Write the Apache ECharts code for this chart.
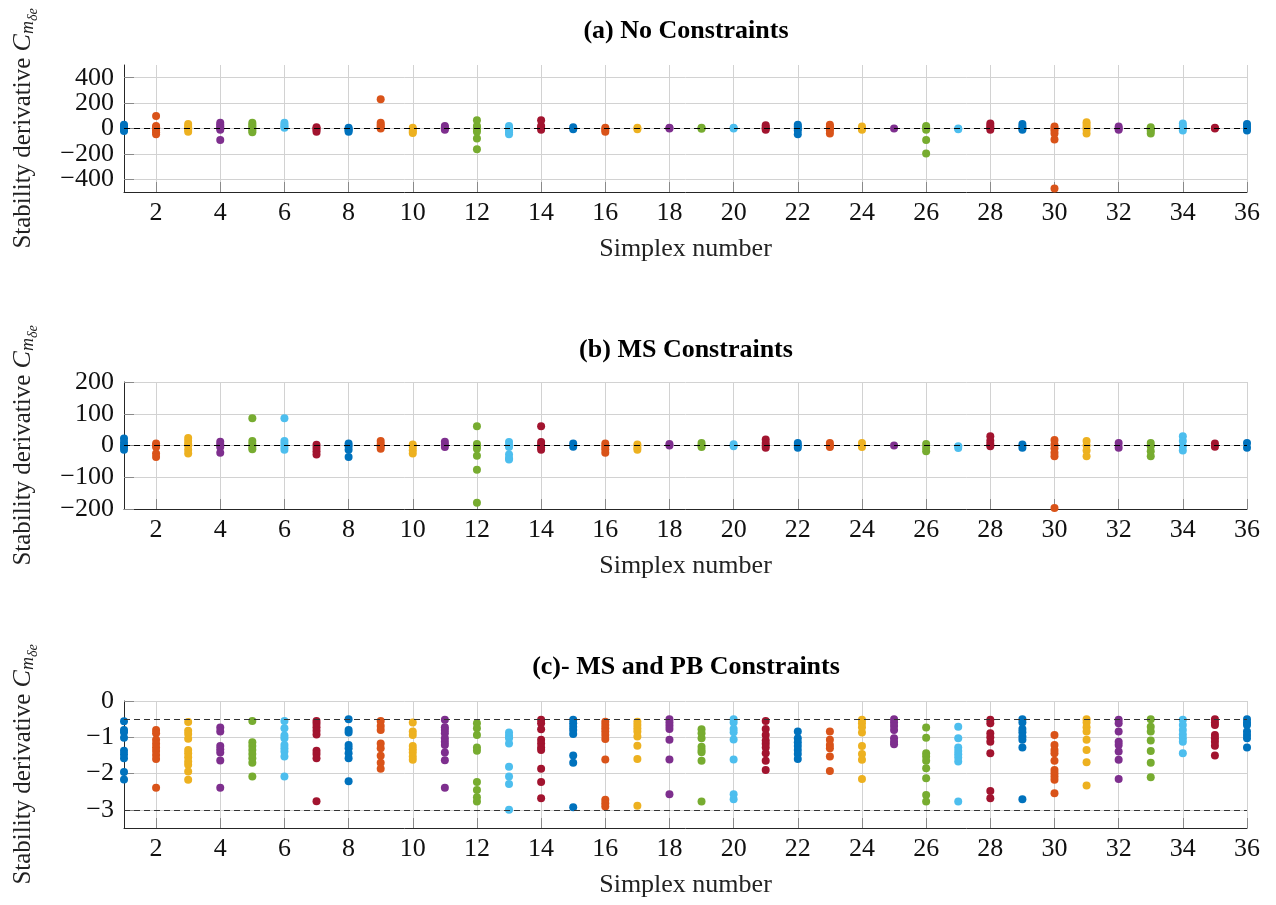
<!DOCTYPE html>
<html>
<head>
<meta charset="utf-8">
<script src="https://cdn.jsdelivr.net/npm/echarts@6/dist/echarts.min.js"></script>
<style>
html,body{margin:0;padding:0;background:#fff;}
#chart{width:1276px;height:905px;}
</style>
</head>
<body>
<div id="chart"></div>
<script>
// ---- data: one list of values per simplex (simplex 1..36) ----
const noConstraints = [
  [30, 20, 10, 0, -5, -10, -20],
  [99, 20, 10, 0, -15, -30, -45],
  [35, 20, 5, -10, -25],
  [45, 30, 15, 0, -10, -91],
  [45, 30, 15, 0, -15, -30],
  [45, 30, 15, 5],
  [10, 0, -10, -25],
  [5, -5, -15, -25],
  [230, 45, 30, 15, 0],
  [5, -10, -25, -35],
  [20, 10, 0, -10],
  [65, 20, 5, -10, -25, -78, -164],
  [20, 5, -15, -30, -45],
  [65, 20, 5, -10],
  [10, -5],
  [5, -10, -25],
  [5, -5],
  [5, 0],
  [5, -2],
  [5, 0],
  [25, 10, 0, -10],
  [30, 15, 0, -15, -45],
  [30, 15, 0, -15, -40],
  [15, 0, -10],
  [0],
  [20, 5, -10, -91, -196],
  [0, -5],
  [40, 20, 5, -10],
  [35, 15, 0, -10],
  [15, 0, -15, -40, -86, -472],
  [50, 30, 10, -10, -40],
  [15, 0, -10],
  [10, -5, -20, -40],
  [40, 20, 5, -15],
  [5, 0],
  [35, 15, 0, -15]
];

const msConstraints = [
  [22, 10, 0, -5, -13],
  [6, 0, -5, -25, -36],
  [24, 14, 5, 0, -13, -25],
  [12, 3, -5, -23],
  [86, 14, 5, -5, -12],
  [86, 14, 5, -5, -13],
  [2, -8, -18, -28],
  [6, -2, -13, -36],
  [14, 5, -2, -10],
  [3, -5, -15, -25],
  [12, 3, -5],
  [61, 5, -3, -10, -32, -76, -180],
  [11, 0, -5, -28, -40, -44],
  [61, 11, 2, -6, -13],
  [6, -4],
  [6, -3, -12, -23],
  [3, -6, -13],
  [5, 0],
  [8, 0, -5],
  [4, -2],
  [19, 8, 0, -7],
  [8, 0, -7],
  [8, 0, -5],
  [8, -5],
  [0],
  [5, -7, -18],
  [-2, -8],
  [29, 15, 5, -2],
  [3, -7],
  [17, 3, -9, -23, -34, -197],
  [14, 0, -16, -34],
  [8, -7],
  [8, -2, -18, -34],
  [29, 14, -2, -16],
  [6, -4],
  [8, -7]
];

const msPbConstraints = [
  [-0.56, -0.80, -0.86, -1.01, -1.37, -1.47, -1.58, -1.96, -2.16],
  [-0.80, -0.89, -1.07, -1.18, -1.28, -1.38, -1.49, -1.60, -2.39],
  [-0.58, -0.82, -0.91, -1.04, -1.35, -1.44, -1.55, -1.67, -1.76, -1.94, -2.17],
  [-0.73, -0.84, -1.24, -1.33, -1.42, -1.64, -2.39],
  [-0.55, -1.14, -1.24, -1.35, -1.46, -1.58, -1.70, -2.08],
  [-0.55, -0.75, -0.95, -1.03, -1.21, -1.30, -1.39, -1.53, -2.08],
  [-0.55, -0.63, -0.72, -0.82, -0.92, -1.37, -1.46, -1.58, -2.76],
  [-0.50, -0.80, -0.87, -1.21, -1.30, -1.44, -1.58, -2.21],
  [-0.55, -0.69, -0.80, -1.17, -1.30, -1.51, -1.70, -1.87],
  [-0.59, -0.84, -0.94, -1.24, -1.33, -1.42, -1.53, -1.62],
  [-0.52, -0.72, -0.80, -0.89, -1.03, -1.12, -1.21, -1.42, -1.63, -2.39],
  [-0.61, -0.75, -0.94, -1.28, -1.37, -2.23, -2.45, -2.65, -2.77],
  [-0.87, -0.96, -1.03, -1.17, -1.81, -2.08, -2.29, -3.00],
  [-0.52, -0.61, -0.78, -1.07, -1.17, -1.28, -1.35, -1.87, -2.23, -2.68],
  [-0.52, -0.61, -0.71, -0.80, -0.91, -1.50, -1.70, -2.93],
  [-0.57, -0.66, -0.75, -0.84, -0.94, -1.05, -1.61, -2.72, -2.82, -2.91],
  [-0.57, -0.66, -0.75, -0.84, -0.98, -1.23, -1.60, -2.89],
  [-0.50, -0.59, -0.68, -0.77, -1.07, -1.61, -2.57],
  [-0.78, -0.89, -1.03, -1.26, -1.35, -1.41, -1.65, -2.77],
  [-0.50, -0.59, -0.77, -0.86, -1.06, -1.61, -2.57, -2.71],
  [-0.55, -0.77, -0.94, -1.09, -1.18, -1.28, -1.44, -1.65, -1.90],
  [-0.84, -1.03, -1.14, -1.24, -1.35, -1.46, -1.60],
  [-0.84, -1.07, -1.21, -1.30, -1.53, -1.93],
  [-0.52, -0.61, -0.72, -0.87, -1.24, -1.46, -1.62, -2.15],
  [-0.50, -0.59, -0.69, -0.80, -1.03, -1.12, -1.19],
  [-0.73, -1.01, -1.44, -1.53, -1.65, -1.85, -2.13, -2.59, -2.77],
  [-0.71, -1.03, -1.28, -1.38, -1.47, -1.56, -1.67, -2.77],
  [-0.52, -0.61, -0.89, -1.00, -1.12, -1.44, -2.48, -2.68],
  [-0.50, -0.59, -0.77, -0.86, -0.98, -1.07, -1.28, -2.71],
  [-0.94, -1.21, -1.35, -1.44, -1.65, -1.90, -1.99, -2.08, -2.17, -2.54],
  [-0.50, -0.59, -0.72, -0.84, -1.07, -1.35, -1.69, -2.33],
  [-0.52, -0.61, -0.84, -1.12, -1.21, -1.39, -1.62, -2.15],
  [-0.50, -0.71, -0.84, -1.09, -1.38, -1.70, -2.10],
  [-0.52, -0.66, -0.80, -0.92, -1.03, -1.12, -1.44],
  [-0.50, -0.59, -0.66, -0.94, -1.03, -1.12, -1.23, -1.50],
  [-0.50, -0.59, -0.66, -0.84, -0.94, -1.03, -1.28]
];

// tick labels / reference lines
const xTicks = [2, 4, 6, 8, 10, 12, 14, 16, 18, 20, 22, 24, 26, 28, 30, 32, 34, 36];
const yTicksA = [-400, -200, 0, 200, 400];
const yTicksB = [-200, -100, 0, 100, 200];
const yTicksC = [-3, -2, -1, 0];
const refLinesA = [0];
const refLinesB = [0];
const refLinesC = [-0.5, -3];
const titles = ['(a) No Constraints', '(b) MS Constraints', '(c)- MS and PB Constraints'];

const colors = ['#0072BD', '#D95319', '#EDB120', '#7E2F8E', '#77AC30', '#4DBEEE', '#A2142F'];
const FONT = '"Liberation Serif", "DejaVu Serif", serif';

function toPoints(groups) {
  const pts = [];
  groups.forEach((vals, i) => vals.forEach(v => pts.push([i + 1, v])));
  return pts;
}
const fmt = v => (v < 0 ? '\u2212' + Math.abs(v) : String(v));

const panels = [
  {data: noConstraints, min: -500, max: 500, ticks: yTicksA, refs: refLinesA, top: 65, refColor: '#000', split: true},
  {data: msConstraints, min: -200, max: 200, ticks: yTicksB, refs: refLinesB, top: 382, refColor: '#000', split: false},
  {data: msPbConstraints, min: -3.5, max: 0, ticks: yTicksC, refs: refLinesC, top: 701, refColor: '#333', split: false}
];
const titleCenters = [27, 346, 663];

const labelStyle = {fontFamily: FONT, fontSize: 26, color: '#111'};
const gridLine = {show: true, lineStyle: {color: '#d2d2d2', width: 1}};
const tickStyle = {color: '#8a8a8a'};

const grid = [], xAxis = [], yAxis = [], series = [], title = [];
const extraY = [];
panels.forEach((p, i) => {
  grid.push({left: 124, width: 1123, top: p.top, height: 127, containLabel: false, outerBoundsMode: 'none'});
  title.push({
    text: titles[i], left: 681, textAlign: 'center', top: titleCenters[i] - 14,
    textStyle: {fontFamily: FONT, fontWeight: 'bold', fontSize: 26, color: '#000'}
  });
  xAxis.push({
    gridIndex: i, type: 'value', min: 1, max: 36,
    axisLine: {show: true, onZero: false, lineStyle: {color: '#262626', width: 1}},
    axisTick: {show: true, inside: true, length: 10, customValues: xTicks, lineStyle: tickStyle},
    axisLabel: Object.assign({customValues: xTicks, interval: 0, margin: 8, hideOverlap: false}, labelStyle),
    splitLine: gridLine,
    name: 'Simplex number', nameLocation: 'middle', nameGap: 44,
    nameTextStyle: {fontFamily: FONT, fontSize: 26, color: '#222'}
  });
  // when ticks are dense, spread labels across two overlaid axes so none get auto-hidden
  const mainTicks = p.split ? p.ticks.filter((_, k) => k % 2 === 0) : p.ticks;
  const altTicks = p.split ? p.ticks.filter((_, k) => k % 2 === 1) : null;
  yAxis.push({
    gridIndex: i, type: 'value', min: p.min, max: p.max,
    axisLine: {show: true, onZero: false, lineStyle: {color: '#262626', width: 1}},
    axisTick: {show: true, inside: true, length: 10, customValues: mainTicks, lineStyle: tickStyle},
    axisLabel: Object.assign({customValues: mainTicks, interval: 0, margin: 10, formatter: fmt, hideOverlap: false}, labelStyle),
    splitLine: gridLine,
    name: '{t|Stability derivative }{c|C}{m|m}{d|\u03B4e}',
    nameLocation: 'middle', nameRotate: 90, nameGap: 84,
    nameTextStyle: {
      fontFamily: FONT, fontSize: 25, color: '#222',
      rich: {
        t: {fontFamily: FONT, fontSize: 25, color: '#222'},
        c: {fontFamily: FONT, fontSize: 26, fontStyle: 'italic', color: '#222'},
        m: {fontFamily: FONT, fontSize: 18, fontStyle: 'italic', color: '#222', padding: [10, 0, 0, 0]},
        d: {fontFamily: FONT, fontSize: 14, fontStyle: 'italic', color: '#222', padding: [19, 0, 0, 0]}
      }
    }
  });
  if (altTicks) {
    extraY.push({
      gridIndex: i, type: 'value', min: p.min, max: p.max, position: 'left',
      axisLine: {show: false},
      axisTick: {show: true, inside: true, length: 10, customValues: altTicks, lineStyle: tickStyle},
      axisLabel: Object.assign({customValues: altTicks, interval: 0, margin: 10, formatter: fmt, hideOverlap: false}, labelStyle),
      splitLine: gridLine
    });
  }
  series.push({
    type: 'line', xAxisIndex: i, yAxisIndex: i, data: [], z: 1, silent: true,
    markLine: {
      silent: true, symbol: 'none', animation: false,
      label: {show: false},
      lineStyle: {type: [6, 4], color: p.refColor, width: 1.2},
      data: p.refs.map(v => ({yAxis: v}))
    }
  });
  series.push({
    type: 'scatter', xAxisIndex: i, yAxisIndex: i, z: 3,
    symbol: 'circle', symbolSize: 8,
    data: toPoints(p.data),
    itemStyle: {opacity: 1, color: params => colors[(params.data[0] - 1) % 7]}
  });
});
extraY.forEach(a => yAxis.push(a));

const chart = echarts.init(document.getElementById('chart'), null, {renderer: 'canvas'});
chart.setOption({
  animation: false,
  backgroundColor: '#fff',
  title, grid, xAxis, yAxis, series
});
</script>
</body>
</html>
